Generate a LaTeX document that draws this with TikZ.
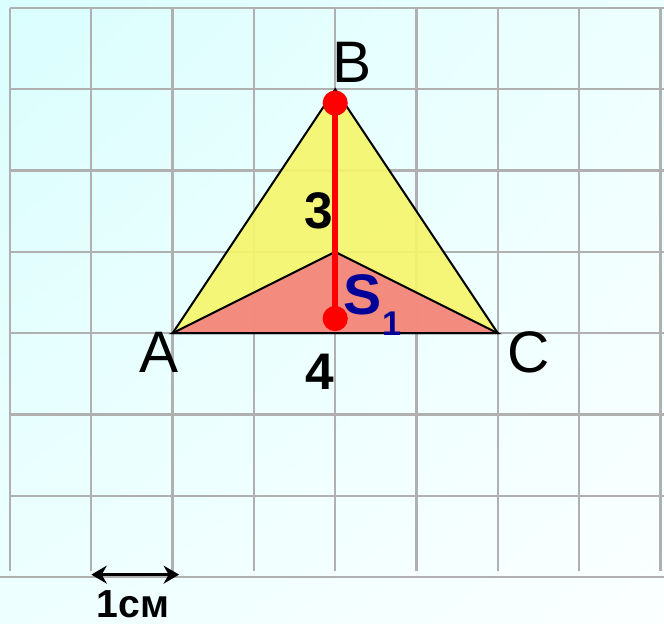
\documentclass[tikz,border=0pt]{standalone}
\usepackage{fontspec}
\setmainfont{Liberation Sans}
\usetikzlibrary{arrows.meta,shadings}

\definecolor{fonsA}{HTML}{DAFEFE}
\definecolor{fonsB}{HTML}{EEFFFF}
\definecolor{fonsC}{HTML}{FBFFFF}
\definecolor{quad}{HTML}{B0B0B0}
\definecolor{figY}{HTML}{F6F66A}
\definecolor{figR}{HTML}{F38080}
\definecolor{figV}{HTML}{FF0000}
\definecolor{figB}{HTML}{000099}

\tikzset{
  lletra/.style={inner sep=0pt,font=\fontsize{20.5}{24}\selectfont},
  xifra/.style={inner sep=0pt,font=\bfseries\fontsize{18}{22}\selectfont},
}

\begin{document}
\begin{tikzpicture}[>={Stealth[length=1.9mm,width=2.2mm]}]
\useasboundingbox (-0.123,-0.565) rectangle (8.044,7.098);
% Fons i quadrícula
\shade[upper left=fonsA,upper right=fonsB,lower left=fonsB,lower right=fonsC]
  (-0.123,-0.565) rectangle (8.044,7.098);
\draw[quad,line width=0.8pt] (0,0.07) grid (8.06,7);
\draw[quad,line width=0.8pt] (-0.123,0) -- (8.06,0);
% Triangle ABC i triangle interior
\coordinate (A) at (2,3);
\coordinate (B) at (4,6);
\coordinate (C) at (6,3);
\coordinate (M) at (4,4);
\filldraw[fill=figY,fill opacity=0.9,line width=0.7pt] (A) -- (B) -- (C) -- cycle;
\filldraw[fill=figR,fill opacity=0.9,line width=0.7pt] (A) -- (M) -- (C) -- cycle;
% Altura
\coordinate (H) at (4,3.18);
\coordinate (T) at (4,5.83);
\draw[figV,line width=2.1pt] (H) -- (T);
\fill[figV] (H) circle (0.155) (T) circle (0.155);
% Etiquetes
\node[lletra] (lA) at (1.83,2.77) {A};
\node[lletra] (lB) at (4.21,6.33) {B};
\node[lletra] (lC) at (6.38,2.77) {C};
\node[xifra] (l3) at (3.80,4.50) {3};
\node[xifra] (l4) at (3.81,2.52) {4};
\node[anchor=base west,inner sep=0pt,text=figB,font=\bfseries\fontsize{20}{23}\selectfont]
  (lS) at (4.10,3.23) {S\raisebox{-7.3pt}{\fontsize{12}{14}\selectfont 1}};
% Escala
\coordinate (u0) at (1.0,0.03);
\coordinate (u1) at (2.08,0.03);
\draw[<->,line width=1pt] (u0) -- (u1);
\node[inner sep=0pt,font=\bfseries\fontsize{13.7}{16}\selectfont] (lu) at (1.51,-0.34) {1см};
\end{tikzpicture}
\end{document}
